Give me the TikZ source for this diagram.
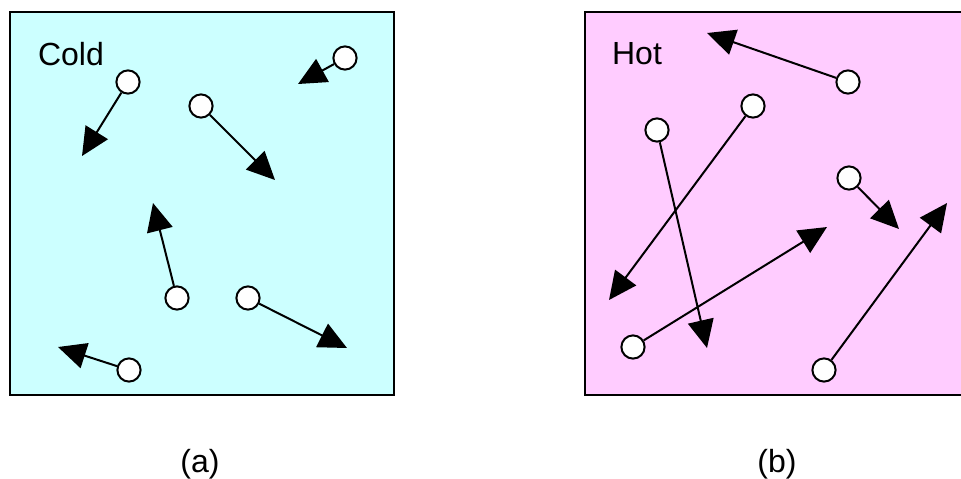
\documentclass[tikz,border=0pt]{standalone}
\usepackage{fontspec}
\setmainfont{Liberation Sans}
\usetikzlibrary{arrows.meta}

\begin{document}
\begin{tikzpicture}[
    x=0.5pt, y=-0.5pt,
    box/.style={draw=black, line width=1.3pt},
    ball/.style={circle, draw=black, fill=white, line width=1pt, minimum size=11.6pt, inner sep=0pt},
    move/.style={line width=1pt, -{Triangle[length=14pt,width=13pt]}},
    tag/.style={font=\fontsize{16}{19}\selectfont}
]
\useasboundingbox (0,0) rectangle (961,478);

% Cold box
\filldraw[box, fill={rgb,255:red,204;green,255;blue,255}] (10,12) rectangle (394,395);
\node[tag] (coldlabel) at (71,54) {Cold};

\node[ball] (c1) at (128,82) {};
\coordinate (c1t) at (82,156);
\node[ball] (c2) at (201,106) {};
\coordinate (c2t) at (275,180);
\node[ball] (c3) at (345,58) {};
\coordinate (c3t) at (298,84);
\node[ball] (c4) at (177,298) {};
\coordinate (c4t) at (153,203);
\node[ball] (c5) at (248,298) {};
\coordinate (c5t) at (347,348);
\node[ball] (c6) at (129,370) {};
\coordinate (c6t) at (58,347);

\draw[move] (c1) -- (c1t);
\draw[move] (c2) -- (c2t);
\draw[move] (c3) -- (c3t);
\draw[move] (c4) -- (c4t);
\draw[move] (c5) -- (c5t);
\draw[move] (c6) -- (c6t);

% Hot box
\filldraw[box, fill={rgb,255:red,255;green,204;blue,255}] (585,12) rectangle (970,395);
\node[tag] (hotlabel) at (637,54) {Hot};

\node[ball] (h1) at (848,82) {};
\coordinate (h1t) at (707,33);
\node[ball] (h2) at (753,106) {};
\coordinate (h2t) at (609,300);
\node[ball] (h3) at (657,130) {};
\coordinate (h3t) at (707,348);
\node[ball] (h4) at (849,178) {};
\coordinate (h4t) at (899,229);
\node[ball] (h5) at (633,347) {};
\coordinate (h5t) at (827,227);
\node[ball] (h6) at (824,370) {};
\coordinate (h6t) at (947,203);

\draw[move] (h1) -- (h1t);
\draw[move] (h2) -- (h2t);
\draw[move] (h3) -- (h3t);
\draw[move] (h4) -- (h4t);
\draw[move] (h5) -- (h5t);
\draw[move] (h6) -- (h6t);

% Captions
\node[tag] (capa) at (200,464) {(a)};
\node[tag] (capb) at (777,464) {(b)};

\end{tikzpicture}
\end{document}
